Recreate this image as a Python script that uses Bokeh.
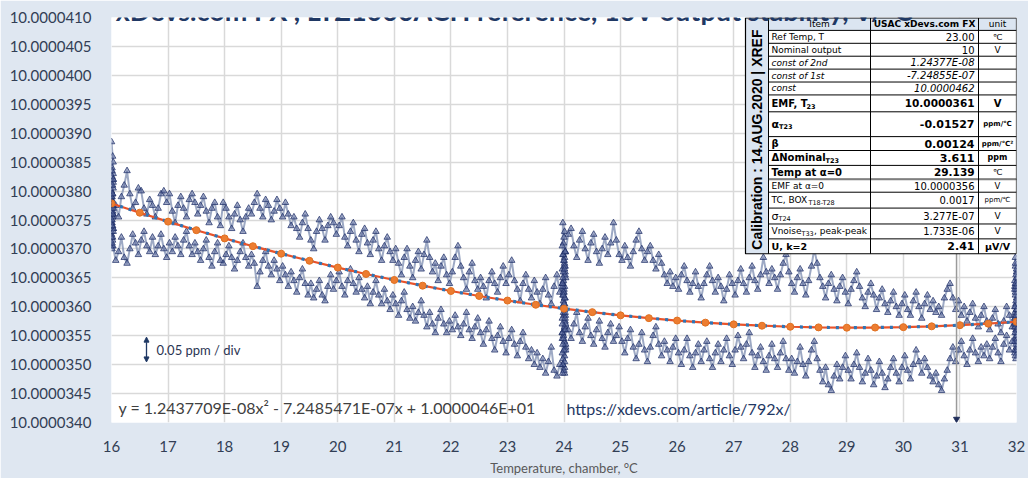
import numpy as np
from bokeh.plotting import figure
from bokeh.models import (Range1d, SingleIntervalTicker, NumeralTickFormatter,
                          Label, Arrow, NormalHead, ColumnDataSource)
from bokeh.core.properties import value, field
from bokeh.embed import file_html
from bokeh.resources import INLINE

# ---------------- texts ----------------
TITLE = "xDevs.com FX , LTZ1000ACH reference, 10V output stability,  V/°C"
X_LABEL = "Temperature, chamber, °C"
EQUATION = "y = 1.2437709E-08x² - 7.2485471E-07x + 1.0000046E+01"
URL = "https://xdevs.com/article/792x/"
SCALE_NOTE = "0.05 ppm / div"
CAL_LABEL = "Calibration : 14.AUG.2020 | XREF"

# ---------------- data (temperature in °C, reading in µV above 10 V) ----------------
t_left = [16.025, 16.075, 16.125, 16.175, 16.225, 16.275, 16.325, 16.375, 16.425, 16.475,
          16.525, 16.575, 16.625, 16.675, 16.725, 16.775, 16.825, 16.875, 16.925, 16.975,
          17.025, 17.075, 17.125, 17.175, 17.225, 17.275, 17.325, 17.375, 17.425, 17.475,
          17.525, 17.575, 17.625, 17.675, 17.725, 17.775, 17.825, 17.875, 17.925, 17.975,
          18.025, 18.075, 18.125, 18.175, 18.225, 18.275, 18.325, 18.375, 18.425, 18.475,
          18.525, 18.575, 18.625, 18.675, 18.725, 18.775, 18.825, 18.875, 18.925, 18.975,
          19.025, 19.075, 19.125, 19.175, 19.225, 19.275, 19.325, 19.375, 19.425, 19.475,
          19.525, 19.575, 19.625, 19.675, 19.725, 19.775, 19.825, 19.875, 19.925, 19.975,
          20.025, 20.075, 20.125, 20.175, 20.225, 20.275, 20.325, 20.375, 20.425, 20.475,
          20.525, 20.575, 20.625, 20.675, 20.725, 20.775, 20.825, 20.875, 20.925, 20.975,
          21.025, 21.075, 21.125, 21.175, 21.225, 21.275, 21.325, 21.375, 21.425, 21.475,
          21.525, 21.575, 21.625, 21.675, 21.725, 21.775, 21.825, 21.875, 21.925, 21.975,
          22.025, 22.075, 22.125, 22.175, 22.225, 22.275, 22.325, 22.375, 22.425, 22.475,
          22.525, 22.575, 22.625, 22.675, 22.725, 22.775, 22.825, 22.875, 22.925, 22.975,
          23.025, 23.075, 23.125, 23.175, 23.225, 23.275, 23.325, 23.375, 23.425, 23.475,
          23.525, 23.575, 23.625, 23.675, 23.725, 23.775, 23.825, 23.875, 23.925, 23.975]
t_right = [24.025, 24.075, 24.125, 24.175, 24.225, 24.275, 24.325, 24.375, 24.425, 24.475,
           24.525, 24.575, 24.625, 24.675, 24.725, 24.775, 24.825, 24.875, 24.925, 24.975,
           25.025, 25.075, 25.125, 25.175, 25.225, 25.275, 25.325, 25.375, 25.425, 25.475,
           25.525, 25.575, 25.625, 25.675, 25.725, 25.775, 25.825, 25.875, 25.925, 25.975,
           26.025, 26.075, 26.125, 26.175, 26.225, 26.275, 26.325, 26.375, 26.425, 26.475,
           26.525, 26.575, 26.625, 26.675, 26.725, 26.775, 26.825, 26.875, 26.925, 26.975,
           27.025, 27.075, 27.125, 27.175, 27.225, 27.275, 27.325, 27.375, 27.425, 27.475,
           27.525, 27.575, 27.625, 27.675, 27.725, 27.775, 27.825, 27.875, 27.925, 27.975,
           28.025, 28.075, 28.125, 28.175, 28.225, 28.275, 28.325, 28.375, 28.425, 28.475,
           28.525, 28.575, 28.625, 28.675, 28.725, 28.775, 28.825, 28.875, 28.925, 28.975,
           29.025, 29.075, 29.125, 29.175, 29.225, 29.275, 29.325, 29.375, 29.425, 29.475,
           29.525, 29.575, 29.625, 29.675, 29.725, 29.775, 29.825, 29.875, 29.925, 29.975,
           30.025, 30.075, 30.125, 30.175, 30.225, 30.275, 30.325, 30.375, 30.425, 30.475,
           30.525, 30.575, 30.625, 30.675, 30.725, 30.775, 30.825, 30.875, 30.925, 30.975,
           31.025, 31.075, 31.125, 31.175, 31.225, 31.275, 31.325, 31.375, 31.425, 31.475,
           31.525, 31.575, 31.625, 31.675, 31.725, 31.775, 31.825, 31.875, 31.925, 31.975]

upper_left = [37.60, 37.75, 37.55, 37.90, 38.10, 38.35, 37.95, 37.70, 37.80, 38.05,
              38.00, 37.70, 37.60, 37.85, 37.75, 37.55, 37.70, 37.95, 38.00, 37.80,
              37.95, 37.65, 37.45, 37.75, 37.90, 37.70, 37.55, 37.85, 37.95, 37.80,
              37.60, 37.75, 37.90, 37.65, 37.45, 37.70, 37.80, 37.55, 37.40, 37.80,
              37.70, 37.55, 37.35, 37.60, 37.75, 37.50, 37.30, 37.55, 37.70, 37.60,
              37.80, 37.95, 37.70, 37.55, 37.85, 37.75, 37.50, 37.65, 37.85, 37.70,
              37.55, 37.80, 37.60, 37.40, 37.55, 37.35, 37.20, 37.45, 37.60, 37.35,
              37.15, 37.00, 37.30, 37.50, 37.35, 37.15, 37.40, 37.55, 37.45, 37.25,
              37.40, 37.55, 37.20, 37.05, 37.30, 37.45, 37.15, 36.95, 37.25, 37.35,
              37.10, 36.90, 37.15, 37.30, 37.00, 36.80, 37.05, 37.20, 36.95, 36.80,
              37.00, 36.75, 36.55, 36.85, 37.00, 36.70, 36.50, 36.80, 36.95, 36.65,
              36.90, 37.15, 36.85, 36.60, 36.75, 36.45, 36.70, 36.85, 36.55, 36.40,
              36.60, 36.85, 37.05, 36.70, 36.50, 36.30, 36.60, 36.75, 36.45, 36.30,
              36.50, 36.35, 36.15, 36.45, 36.60, 36.40, 36.25, 36.50, 36.70, 36.40,
              36.55, 36.80, 36.45, 36.30, 36.10, 36.40, 36.55, 36.30, 36.15, 36.45,
              36.25, 36.05, 36.30, 36.50, 36.20, 36.05, 36.35, 36.55, 36.25, 36.40]
lower_left = [37.05, 36.80, 36.95, 37.20, 36.85, 36.75, 37.00, 37.25, 37.10, 36.90,
              37.15, 37.30, 37.05, 36.95, 37.20, 36.90, 37.05, 37.25, 37.00, 36.85,
              37.10, 36.95, 37.20, 37.05, 36.90, 37.15, 37.30, 37.05, 36.90, 37.10,
              36.95, 36.80, 37.00, 37.15, 36.85, 36.70, 36.95, 37.10, 36.80, 36.75,
              36.90, 37.05, 36.85, 36.65, 36.80, 36.95, 37.10, 36.85, 36.70, 36.90,
              36.75, 36.35, 36.60, 36.80, 36.95, 36.70, 36.55, 36.80, 36.65, 36.45,
              36.70, 36.55, 36.35, 36.60, 36.45, 36.25, 36.50, 36.65, 36.40, 36.20,
              36.40, 36.15, 36.30, 36.45, 36.20, 36.10, 36.35, 36.55, 36.30, 36.45,
              36.60, 36.35, 36.20, 36.45, 36.65, 36.40, 36.25, 36.50, 36.30, 36.15,
              36.35, 36.05, 36.25, 36.45, 36.20, 36.05, 36.30, 36.10, 35.95, 36.20,
              36.05, 35.85, 36.10, 36.25, 35.95, 35.80, 36.00, 35.75, 35.90, 36.10,
              35.85, 35.65, 35.90, 35.70, 35.55, 35.80, 35.95, 35.70, 35.55, 35.75,
              35.60, 35.85, 35.65, 35.50, 35.70, 35.90, 35.60, 35.45, 35.65, 35.80,
              35.55, 35.35, 35.60, 35.75, 35.45, 35.25, 35.50, 35.65, 35.40, 35.20,
              35.45, 35.60, 35.35, 35.15, 35.40, 35.55, 35.30, 35.10, 35.25, 35.00,
              35.20, 34.95, 35.10, 34.85, 35.05, 35.30, 34.90, 34.80, 35.00, 34.85]
upper_right = [36.95, 37.25, 37.35, 37.05, 36.85, 37.15, 37.30, 37.00, 36.80, 37.10,
               37.25, 36.95, 36.75, 37.00, 37.20, 36.90, 37.10, 37.45, 37.15, 36.90,
               36.80, 37.05, 36.85, 36.70, 36.95, 37.15, 37.30, 37.00, 36.80, 36.95,
               37.05, 36.80, 36.65, 36.90, 36.75, 36.55, 36.40, 36.60, 36.35, 36.50,
               36.30, 36.55, 36.70, 36.45, 36.25, 36.40, 36.60, 36.35, 36.15, 36.40,
               36.55, 36.70, 36.45, 36.25, 36.50, 36.35, 36.10, 36.30, 36.55, 36.40,
               36.20, 36.45, 36.65, 36.40, 36.25, 36.50, 36.70, 36.45, 36.30, 36.55,
               36.85, 36.60, 36.40, 36.65, 36.50, 36.30, 36.55, 36.75, 36.90, 36.60,
               36.40, 36.25, 36.50, 36.65, 36.40, 36.20, 36.45, 36.70, 37.00, 36.75,
               36.50, 36.35, 36.15, 36.40, 36.55, 36.30, 36.10, 36.35, 36.50, 36.25,
               36.05, 36.30, 36.45, 36.60, 36.35, 36.15, 36.00, 36.25, 36.40, 36.20,
               35.95, 36.15, 36.30, 36.05, 35.90, 36.10, 36.25, 36.00, 35.85, 36.05,
               36.20, 35.95, 35.85, 36.10, 36.25, 36.00, 35.80, 36.05, 36.20, 35.95,
               36.10, 35.90, 36.00, 35.85, 36.15, 36.30, 36.40, 36.15, 35.95, 36.10,
               35.85, 36.00, 35.75, 35.90, 36.05, 35.80, 35.65, 35.85, 36.00, 35.75,
               35.60, 35.80, 35.95, 35.70, 35.55, 35.75, 36.00, 35.85, 35.65, 35.80]
lower_right = [35.85, 35.60, 35.45, 35.70, 35.90, 35.55, 35.40, 35.65, 35.80, 35.50,
               35.35, 35.60, 35.75, 35.45, 35.30, 35.55, 35.70, 35.40, 35.50, 35.65,
               35.40, 35.20, 35.45, 35.60, 35.30, 35.10, 35.35, 35.55, 35.25, 35.05,
               35.30, 35.50, 35.65, 35.35, 35.15, 35.40, 35.25, 35.05, 35.30, 35.45,
               35.20, 35.00, 35.25, 35.45, 35.15, 34.95, 35.20, 35.35, 35.05, 35.25,
               35.40, 35.10, 34.95, 35.20, 35.35, 35.05, 35.25, 35.45, 35.15, 35.00,
               35.25, 35.50, 35.30, 35.10, 35.35, 35.55, 35.20, 34.95, 35.15, 35.30,
               35.05, 34.90, 35.15, 35.35, 35.10, 34.95, 35.20, 35.40, 35.10, 34.90,
               35.10, 34.85, 35.05, 35.30, 35.00, 34.80, 35.05, 35.25, 35.40, 35.10,
               34.90, 34.70, 34.95, 34.65, 34.55, 34.80, 35.00, 34.75, 34.95, 35.15,
               34.90, 34.75, 35.00, 35.20, 34.95, 34.70, 34.85, 35.10, 34.90, 34.65,
               34.80, 35.05, 34.85, 34.60, 34.75, 34.95, 35.10, 34.85, 34.70, 34.95,
               35.15, 34.90, 34.75, 35.00, 35.25, 35.05, 34.85, 35.10, 34.95, 34.80,
               34.70, 34.85, 34.65, 34.55, 34.75, 34.90, 35.10, 35.30, 35.05, 35.25,
               35.40, 35.15, 35.00, 35.25, 35.45, 35.20, 35.05, 35.30, 35.15, 35.35,
               35.10, 35.30, 35.45, 35.20, 35.05, 35.35, 35.50, 35.25, 35.40, 35.55]

# dwell clusters at 16, 24 and 32 °C
c16_t = [16.00, 16.02, 16.01, 16.03, 16.00, 16.02, 16.01, 16.03, 16.00, 16.02,
         16.01, 16.03, 16.00, 16.02, 16.01, 16.03, 16.00, 16.02, 16.01, 16.03,
         16.00, 16.02, 16.01, 16.03, 16.00, 16.02, 16.01, 16.03, 16.00, 16.02,
         16.01, 16.00, 16.02, 16.03, 16.01, 16.00, 16.02, 16.03, 16.01, 16.00,
         16.02, 16.03, 16.01, 16.00, 16.02, 16.03, 16.01, 16.00, 16.02, 16.03]
c16_v = [38.85, 38.60, 38.40, 38.20, 38.10, 37.95, 37.85, 37.75, 37.65, 37.55,
         37.45, 37.35, 37.25, 37.15, 37.05, 38.30, 38.00, 37.80, 37.70, 37.60,
         37.50, 37.40, 37.90, 38.15, 37.30, 37.20, 37.00, 38.50, 37.85, 37.55,
         38.25, 37.95, 37.65, 37.35, 37.10, 37.45, 37.75, 38.05, 38.35, 37.90,
         37.60, 37.30, 37.50, 37.80, 38.10, 37.70, 37.40, 37.20, 37.95, 38.20]
c24_t = [23.98, 24.01, 23.99, 24.02, 24.00, 23.97, 24.03, 24.01,
         23.98, 24.01, 23.99, 24.02, 24.00, 23.97, 24.03, 24.01,
         23.98, 24.01, 23.99, 24.02, 24.00, 23.97, 24.03, 24.01,
         23.98, 24.01, 23.99, 24.02, 24.00, 23.97, 24.03, 24.01,
         23.98, 24.01, 23.99, 24.02, 24.00, 23.97, 24.03, 24.01,
         24.00, 23.98, 24.02, 23.99, 24.01, 23.97, 24.00, 23.98, 24.02, 23.99,
         24.01, 23.97, 24.00, 23.98, 24.02, 23.99, 24.01, 23.97, 24.00, 23.98,
         24.02, 23.99, 24.01, 23.97, 24.00, 23.98, 24.02, 23.99, 24.01, 23.97]
c24_v = [37.45, 37.30, 37.10, 36.95, 36.80, 36.65, 36.50, 36.35, 36.20, 36.05,
         35.90, 35.75, 35.60, 35.45, 35.30, 35.15, 35.00, 34.85, 36.90, 36.60,
         36.30, 36.00, 35.70, 35.40, 35.10, 36.75, 36.45, 36.15, 35.85, 35.55,
         35.25, 34.95, 36.40, 35.95, 35.50, 36.70, 36.25, 35.80, 35.35, 36.85,
         37.20, 36.90, 36.55, 36.10, 35.65, 35.20, 34.90, 35.35, 35.80, 36.25,
         36.70, 37.05, 36.80, 36.35, 35.90, 35.45, 35.05, 35.55, 36.05, 36.50,
         36.95, 36.60, 36.15, 35.70, 35.25, 35.00, 35.60, 36.20, 36.65, 36.40]
c32_t = [31.98, 32.00, 31.97, 31.99, 32.00, 31.98, 31.97, 31.99, 32.00, 31.98,
         31.97, 31.99, 32.00, 31.98, 31.97, 31.99, 32.00, 31.98, 31.97, 31.99,
         32.00, 31.98, 31.97, 31.99, 32.00, 31.98, 31.99, 31.98, 32.00, 31.97,
         31.99, 31.98, 32.00, 31.97, 31.99, 31.98, 32.00, 31.97, 31.99, 31.98,
         32.00, 31.97, 31.99, 31.98, 32.00, 31.97]
c32_v = [36.85, 36.60, 36.45, 36.30, 36.15, 36.00, 35.85, 35.70, 35.55, 35.40,
         35.25, 35.10, 36.50, 36.20, 35.90, 35.60, 35.30, 36.70, 36.35, 36.05,
         35.75, 35.45, 35.20, 36.40, 35.95, 35.65, 36.55, 36.25, 35.95, 35.65,
         35.35, 35.15, 35.50, 35.80, 36.10, 36.40, 36.65, 36.30, 35.85, 35.40,
         35.60, 36.00, 36.35, 36.75, 35.25, 35.70]

# second-order trend line points (µV above 10 V)
fit_t = [16.0, 16.5, 17.0, 17.5, 18.0, 18.5, 19.0, 19.5, 20.0, 20.5, 21.0,
         21.5, 22.0, 22.5, 23.0, 23.5, 24.0, 24.5, 25.0, 25.5, 26.0, 26.5,
         27.0, 27.5, 28.0, 28.5, 29.0, 29.5, 30.0, 30.5, 31.0, 31.5, 32.0]
fit_uv = [37.786, 37.626, 37.472, 37.324, 37.182, 37.047, 36.918, 36.795, 36.678,
          36.567, 36.463, 36.365, 36.273, 36.187, 36.108, 36.035, 35.968, 35.907,
          35.852, 35.804, 35.762, 35.726, 35.696, 35.673, 35.655, 35.644, 35.639,
          35.641, 35.648, 35.662, 35.682, 35.708, 35.741]

# cursor line
cursor_t = [30.94]
cursor_top_uv = [36.92]
cursor_bottom_uv = [34.06]

# table content
tbl_head = ["Item", "USAC xDevs.com FX", "unit"]
tbl_items = ["Ref Temp, T", "Nominal output", "const of 2nd", "const of 1st", "const",
             "EMF, T", "α", "β", "ΔNominal", "Temp at α=0", "EMF at α=0",
             "TC, BOX", "σ", "Vnoise", "U, k=2"]
tbl_subs = ["", "", "", "", "", "23", "T23", "", "T23", "", "", "T18-T28", "T24", "T33", ""]
tbl_suffix = ["", "", "", "", "", "", "", "", "", "", "", "", "", ", peak-peak", ""]
tbl_values = ["23.00", "10", "1.24377E-08", "-7.24855E-07", "10.0000462", "10.0000361",
              "-0.01527", "0.00124", "3.611", "29.139", "10.0000356", "0.0017",
              "3.277E-07", "1.733E-06", "2.41"]
tbl_units = ["℃", "V", "", "", "", "V", "ppm/℃", "ppm/℃²", "ppm", "℃", "V", "ppm/℃",
             "V", "V", "µV/V"]


def volts(uv):
    return [10 + u * 1e-6 for u in uv]


# ---------------- figure ----------------
W, H = 1028, 478
FL, FR, FT, FB = 111, 1016, 17, 425  # frame in page pixels

p = figure(width=W, height=H, output_backend="svg", toolbar_location=None,
           x_range=Range1d(16, 32), y_range=Range1d(10.000034, 10.000041),
           min_border_left=FL, min_border_right=W - FR,
           min_border_top=FT, min_border_bottom=H - FB)
p.border_fill_color = "#dfe7f1"
p.background_fill_color = "white"
p.outline_line_color = None


def dx(px):
    return 16 + (px - FL) * 16.0 / (FR - FL)


def dy(py):
    return 10 + (41 - (py - FT) * 7.0 / (FB - FT)) * 1e-6


p.xaxis.ticker = SingleIntervalTicker(interval=1, num_minor_ticks=0)
p.yaxis.ticker = SingleIntervalTicker(interval=5e-7, num_minor_ticks=0)
p.yaxis.formatter = NumeralTickFormatter(format="0.0000000")
for ax in (p.xaxis[0], p.yaxis[0]):
    ax.axis_line_color = None
    ax.major_tick_line_color = None
    ax.minor_tick_line_color = None
    ax.major_label_text_font = "Lato"
    ax.major_label_text_font_size = "15px"
    ax.major_label_text_color = "#323e55"
p.yaxis.major_label_standoff = 14
p.xaxis.major_label_standoff = 12
p.xaxis.axis_label = X_LABEL
p.xaxis.axis_label_text_font = "Lato"
p.xaxis.axis_label_text_font_size = "13px"
p.xaxis.axis_label_text_font_style = "normal"
p.xaxis.axis_label_text_color = "#595959"
p.xaxis.axis_label_standoff = 5
p.grid.grid_line_color = "#d9d9d9"
p.grid.grid_line_width = 1.5

# ---------------- measurement series ----------------
seq_t = (c16_t[:25] + t_left + c24_t[:35] + t_right + c32_t +
         t_right[::-1] + c24_t[35:] + t_left[::-1] + c16_t[25:])
seq_uv = (c16_v[:25] + upper_left + c24_v[:35] + upper_right + c32_v +
          lower_right[::-1] + c24_v[35:] + lower_left[::-1] + c16_v[25:])
src = ColumnDataSource(dict(t=seq_t, v=volts(seq_uv)))
p.line("t", "v", source=src, line_color="#8593b5", line_width=2, line_alpha=0.8)
p.scatter("t", "v", source=src, marker="triangle", size=6.5,
          fill_color="#55669a", fill_alpha=0.55, line_color="#22326a", line_alpha=0.75)

# trend line
fsrc = ColumnDataSource(dict(t=fit_t, v=volts(fit_uv)))
p.line("t", "v", source=fsrc, line_color="#e8532b", line_width=2.2)
p.line("t", "v", source=fsrc, line_color="#2e75b6", line_width=3.2, line_dash="3 6")
p.scatter("t", "v", source=fsrc, marker="circle", size=7,
          fill_color="#ed7d31", line_color="#e07020")

# cursor
p.segment(x0=cursor_t, x1=cursor_t, y0=volts(cursor_top_uv), y1=volts(cursor_bottom_uv),
          line_color="#9a9a9a", line_width=1.5)
p.scatter(x=cursor_t, y=volts(cursor_bottom_uv), marker="inverted_triangle", size=6,
          fill_color="#1f2d5a", line_color="#1f2d5a")

# ---------------- annotations ----------------
NAVY = "#1f3864"
p.add_layout(Label(x=dx(518), y=dy(10), text=TITLE, text_align="center",
                   text_baseline="alphabetic", text_font="Lato", text_font_size="27px",
                   text_font_style="bold", text_color=NAVY))
p.add_layout(Arrow(start=NormalHead(size=5, fill_color=NAVY, line_color=NAVY),
                   end=NormalHead(size=5, fill_color=NAVY, line_color=NAVY),
                   x_start=dx(146), y_start=dy(339), x_end=dx(146), y_end=dy(364),
                   line_color=NAVY, line_width=1.3))
p.text(x=[dx(156)], y=[dy(352)], text=[SCALE_NOTE], text_font=value("Lato"),
       text_font_size="13px", text_color="#2b3553", text_baseline="middle",
       text_align="left")
p.text(x=[dx(118)], y=[dy(410)], text=[EQUATION], text_font=value("Lato"),
       text_font_size="16px", text_color="#404040", text_baseline="middle",
       text_align="left")
p.text(x=[dx(566)], y=[dy(411)], text=[URL], text_font=value("Lato"),
       text_font_size="16px", text_color=NAVY, text_baseline="middle",
       text_align="left")

# ---------------- table ----------------
TX = [745, 768, 870, 978, 1016]
TY = [17.5, 30, 43, 56, 69, 82, 95, 112, 137, 151, 166, 180, 193, 209, 225, 240, 255]
p.quad(left=[dx(TX[0])], right=[dx(TX[4])], top=[dy(TY[0])], bottom=[dy(TY[-1])],
       fill_color="white", line_color=None)
p.quad(left=[dx(TX[0]), dx(TX[1])], right=[dx(TX[1]), dx(TX[4])],
       top=[dy(TY[0]), dy(TY[0])], bottom=[dy(TY[-1]), dy(TY[1])],
       fill_color="#dbe5f1", line_color=None)
inner = TY[1:-1]
p.segment(x0=[dx(TX[1])] * len(inner), x1=[dx(TX[4])] * len(inner),
          y0=[dy(v) for v in inner], y1=[dy(v) for v in inner],
          line_color="black", line_width=1)
p.segment(x0=[dx(TX[1])], x1=[dx(TX[4])], y0=[dy(180)], y1=[dy(180)],
          line_color="#7f7f7f", line_width=2)
p.segment(x0=[dx(v) for v in TX[1:4]], x1=[dx(v) for v in TX[1:4]],
          y0=[dy(TY[0])] * 3, y1=[dy(TY[-1])] * 3, line_color="black", line_width=1)
p.quad(left=[dx(TX[0])], right=[dx(TX[4])], top=[dy(TY[0])], bottom=[dy(TY[-1])],
       fill_color=None, line_color="black", line_width=1.2)

istyle = ["normal", "normal", "italic", "italic", "italic", "bold", "bold", "bold",
          "bold", "bold", "normal", "normal", "normal", "normal", "bold"]
isize = [9, 9, 9, 9, 9, 10, 11, 10, 10, 10, 9, 9, 11, 9, 9.5]
vsize = [10, 10, 10, 10, 10, 10.5, 11, 11, 11, 10.5, 10, 10, 10, 10, 11]
usize = [8.5, 9, 9, 9, 9, 10, 7, 7, 8, 8.5, 8.5, 7, 9, 9, 9.5]
ustyle = ["normal", "normal", "normal", "normal", "normal", "bold", "bold", "bold",
          "bold", "normal", "normal", "normal", "normal", "normal", "bold"]
sub_off = [0, 0, 0, 0, 0, 35, 7.5, 0, 54, 0, 0, 37, 7, 30, 0]

xs, ys, ts, fs, fst, al = [], [], [], [], [], []


def put(x, y, t, size, style, align):
    if t:
        xs.append(dx(x)); ys.append(dy(y)); ts.append(t)
        fs.append("%gpx" % size); fst.append(style); al.append(align)


hy = (TY[0] + TY[1]) / 2
put(819, hy, tbl_head[0], 9, "normal", "center")
put(924, hy, tbl_head[1], 9, "bold", "center")
put(997, hy, tbl_head[2], 9, "normal", "center")
for i in range(len(tbl_items)):
    yc = (TY[i + 1] + TY[i + 2]) / 2
    put(771, yc, tbl_items[i], isize[i], istyle[i], "left")
    put(771 + sub_off[i], yc + 3, tbl_subs[i], 6.5, istyle[i], "left")
    put(771 + sub_off[i] + 12.5, yc, tbl_suffix[i], 9, "normal", "left")
    put(974, yc, tbl_values[i], vsize[i], istyle[i], "right")
    put(997, yc, tbl_units[i], usize[i], ustyle[i], "center")

tsrc = ColumnDataSource(dict(x=xs, y=ys, text=ts, fs=fs, fst=fst, al=al))
p.text("x", "y", text="text", source=tsrc, text_font=value("DejaVu Sans"),
       text_font_size=field("fs"), text_font_style=field("fst"),
       text_align=field("al"), text_baseline="middle", text_color="black")

p.text(x=[dx(756.5)], y=[dy(140)], text=[CAL_LABEL], angle=np.pi / 2,
       text_font=value("Liberation Sans"), text_font_size="14px",
       text_font_style="bold", text_color="black", text_align="center",
       text_baseline="middle")

open("out.html", "w").write(file_html(p, INLINE))
